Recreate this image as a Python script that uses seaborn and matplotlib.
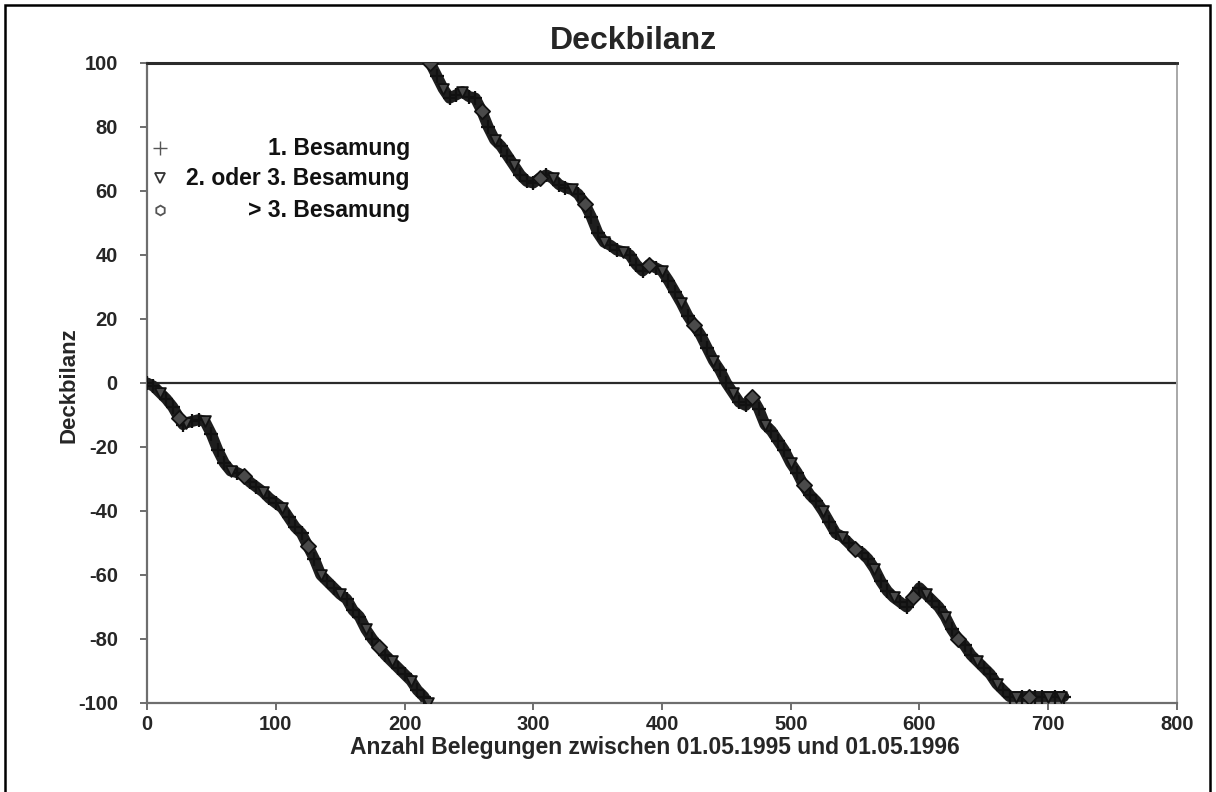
import numpy as np
import pandas as pd
import matplotlib
matplotlib.use("Agg")
import matplotlib.pyplot as plt
import seaborn as sns
from matplotlib.patches import Rectangle

# =========================
# DATA
# =========================

# first run: starts at 0, falls to -100
x_teil1 = [0, 5, 10, 15, 20, 25, 28, 30, 35, 40,
           45, 50, 55, 60, 65, 70, 75, 80, 85, 90,
           95, 100, 105, 110, 115, 120, 125, 130, 135, 140,
           145, 150, 155, 160, 165, 170, 175, 180, 185, 190,
           195, 200, 205, 210, 215, 218]
y_teil1 = [0, -1, -3, -5, -7.5, -11, -13, -12.5, -12, -11.5,
           -12, -16, -21, -25, -27.5, -28, -29, -31, -32.5, -34,
           -36, -37.5, -39, -42, -45, -47, -51, -55, -60, -62,
           -64, -66, -67.5, -71, -73, -77, -80, -82.5, -85, -87,
           -89, -91, -93, -96, -98, -100]
bes_teil1 = [1, 1, 2, 1, 1, 3, 1, 2, 1, 1,
             2, 1, 1, 1, 2, 1, 3, 1, 1, 2,
             1, 1, 2, 1, 1, 1, 3, 1, 2, 1,
             1, 2, 1, 1, 1, 2, 1, 3, 1, 2,
             1, 1, 2, 1, 1, 2]

# second run: restarts at +100, falls to -98
x_teil2 = [220, 225, 230, 235, 240, 245, 250, 255, 260, 265,
           270, 275, 280, 285, 290, 295, 300, 305, 310, 315,
           320, 325, 330, 335, 340, 345, 350, 355, 360, 365,
           370, 375, 380, 385, 390, 395, 400, 405, 410, 415,
           420, 425, 430, 435, 440, 445, 450, 455, 460, 465,
           470, 475, 480, 485, 490, 495, 500, 505, 510, 515,
           520, 525, 530, 535, 540, 545, 550, 555, 560, 565,
           570, 575, 580, 585, 590, 595, 600, 605, 610, 615,
           620, 625, 630, 635, 640, 645, 650, 655, 660, 665,
           670, 675, 680, 685, 690, 695, 700, 705, 710, 712]
y_teil2 = [100, 96, 92, 89, 90, 91, 89.5, 89, 85, 80,
           76, 74, 71, 68, 65, 63, 62.5, 64, 65, 64,
           62, 61, 60.5, 59, 56, 52, 47, 44, 43, 41.5,
           41, 40, 37, 35, 37, 36, 35, 32, 28.5, 25,
           21, 18, 15, 11, 7, 4, 0, -3, -6, -7,
           -4.5, -8, -13, -15, -18, -21, -25, -28, -32, -35,
           -37, -40, -43.5, -47, -48, -50, -52, -53, -55, -58,
           -62, -65, -67, -68.5, -70, -67, -64, -66, -68, -70,
           -73, -77, -80, -82, -85, -87, -89, -91, -94, -96,
           -98, -98, -98, -98, -98, -98, -98, -98, -98, -98]
bes_teil2 = [3, 1, 2, 1, 1, 2, 1, 1, 3, 1,
             2, 1, 1, 2, 1, 1, 1, 3, 1, 2,
             1, 1, 2, 1, 3, 1, 1, 2, 1, 1,
             2, 1, 1, 1, 3, 1, 2, 1, 1, 2,
             1, 3, 1, 1, 2, 1, 1, 2, 1, 1,
             3, 1, 2, 1, 1, 1, 2, 1, 3, 1,
             1, 2, 1, 1, 2, 1, 3, 1, 1, 2,
             1, 1, 2, 1, 1, 3, 1, 2, 1, 1,
             2, 1, 3, 1, 1, 2, 1, 1, 2, 1,
             1, 2, 1, 3, 1, 1, 2, 1, 2, 1]

legend_labels = ["1. Besamung", "2. oder 3. Besamung", "> 3. Besamung"]
x_ticks = [0, 100, 200, 300, 400, 500, 600, 700, 800]
y_ticks = [-100, -80, -60, -40, -20, 0, 20, 40, 60, 80, 100]

df = pd.DataFrame({
    "x": x_teil1 + x_teil2,
    "y": y_teil1 + y_teil2,
    "besamung": bes_teil1 + bes_teil2,
    "teil": [1] * len(x_teil1) + [2] * len(x_teil2),
})

# =========================
# STYLE
# =========================

sns.set_style("ticks")
plt.rcParams['font.family'] = ['Liberation Sans', 'DejaVu Sans']
plt.rcParams['font.weight'] = 'bold'
plt.rcParams['axes.labelweight'] = 'bold'
plt.rcParams['axes.unicode_minus'] = False

fig = plt.figure(figsize=(12.16, 7.92), dpi=100)
ax = fig.add_axes([0.1209, 0.1124, 0.8470, 0.8081])

# reference lines
ax.axhline(0, color='#2b2b2b', lw=1.6, zorder=1)
ax.axhline(100, color='#2b2b2b', lw=2.2, zorder=1, clip_on=False)

# =========================
# DATA BAND
# =========================

for t in [1, 2]:
    sns.lineplot(data=df[df["teil"] == t], x="x", y="y", sort=False,
                 color='#1e1e1e', lw=8, ax=ax, zorder=2, legend=False)

marker_map = {1: '+', 2: 'v', 3: 'D'}
for code, mk in marker_map.items():
    sub = df[df["besamung"] == code]
    if mk == '+':
        sns.scatterplot(data=sub, x="x", y="y", marker=mk, color='#111111',
                        s=110, linewidth=1.6, ax=ax, zorder=3, legend=False)
    else:
        sns.scatterplot(data=sub, x="x", y="y", marker=mk, facecolor='#4a4a4a',
                        edgecolor='#111111', s=60, linewidth=1.3, ax=ax,
                        zorder=3, legend=False)

# =========================
# AXES
# =========================

ax.set_xlim(0, 800)
ax.set_ylim(-100, 100)
ax.set_xticks(x_ticks)
ax.set_yticks(y_ticks)
ax.tick_params(axis='both', labelsize=14.5, length=5, width=1.2, color='#555555',
               direction='out')
ax.tick_params(axis='y', pad=16)
ax.tick_params(axis='x', pad=4)
for lab in ax.get_xticklabels() + ax.get_yticklabels():
    lab.set_fontweight('bold')

for side in ['left', 'bottom']:
    ax.spines[side].set_color('#6e6e6e')
    ax.spines[side].set_linewidth(1.6)
ax.spines['right'].set_visible(True)
ax.spines['right'].set_color('#a8a8a8')
ax.spines['right'].set_linewidth(1.4)
ax.spines['top'].set_visible(True)
ax.spines['top'].set_color('#2b2b2b')
ax.spines['top'].set_linewidth(2.0)

ax.set_xlabel("Anzahl Belegungen zwischen 01.05.1995 und 01.05.1996",
              fontsize=16.5, fontweight='bold')
ax.xaxis.set_label_coords(0.493, -0.052)
ax.set_ylabel("Deckbilanz", fontsize=16, fontweight='bold')
ax.yaxis.set_label_coords(-0.066, 0.497)

ax.set_title("Deckbilanz", fontsize=23, fontweight='bold', x=0.472, pad=10)

# =========================
# LEGEND (labels right aligned like the original)
# =========================

leg_y = [0.867, 0.820, 0.770]
leg_styles = [dict(marker='+', ms=10, mew=1.0, color='#555555'),
              dict(marker='v', ms=7, mew=1.3, mfc='white', mec='#333333'),
              dict(marker='h', ms=7, mew=1.3, mfc='white', mec='#555555')]
for yy, lab, st in zip(leg_y, legend_labels, leg_styles):
    ax.plot([0.0126], [yy], transform=ax.transAxes, ls='none', clip_on=False, **st)
    ax.text(0.2553, yy, lab, transform=ax.transAxes, ha='right', va='center',
            fontsize=16.5, fontweight='bold', color='#111111')

# outer frame of the scanned figure
fig.patches.append(Rectangle((0.0041, -0.02), 0.9910, 1.0137, transform=fig.transFigure,
                             fill=False, lw=1.8, ec='black'))

plt.savefig("out.png", dpi=100)
